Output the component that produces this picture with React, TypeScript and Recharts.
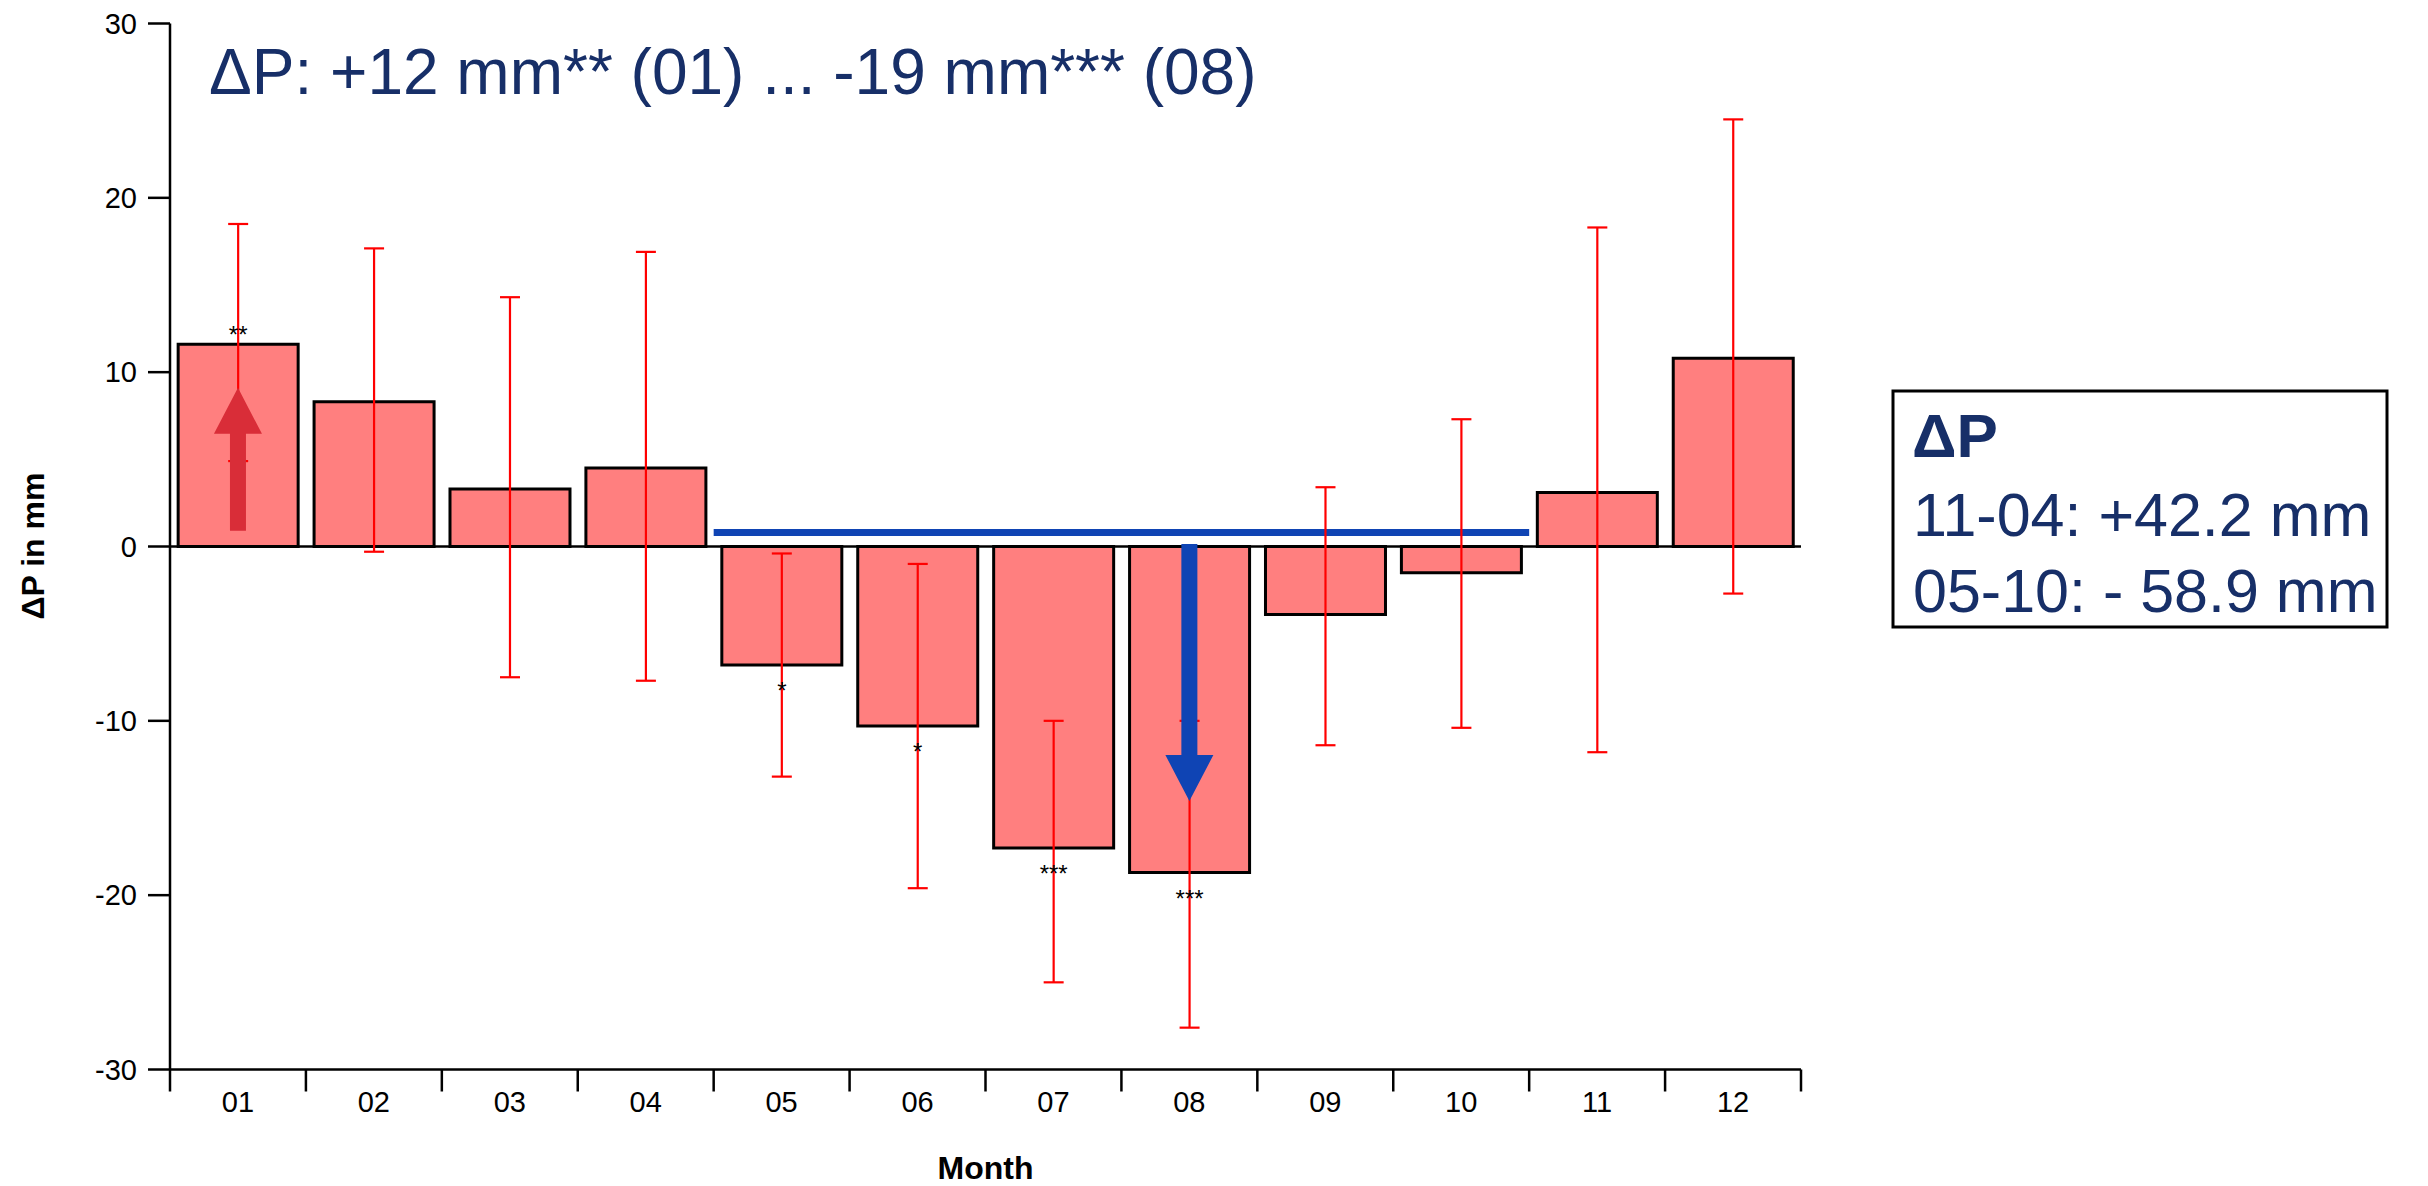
import {
  Bar,
  ComposedChart,
  ErrorBar,
  LabelList,
  ReferenceArea,
  ReferenceLine,
  XAxis,
  YAxis,
} from 'recharts';

const MONTHS = ['01', '02', '03', '04', '05', '06', '07', '08', '09', '10', '11', '12'];
const DELTA_P = [11.6, 8.3, 3.3, 4.5, -6.8, -10.3, -17.3, -18.7, -3.9, -1.5, 3.1, 10.8];
const CI_LOW = [4.9, -0.3, -7.5, -7.7, -13.2, -19.6, -25.0, -27.6, -11.4, -10.4, -11.8, -2.7];
const CI_HIGH = [18.5, 17.1, 14.3, 16.9, -0.4, -1.0, -10.0, -10.0, 3.4, 7.3, 18.3, 24.5];
const SIGNIFICANCE = ['**', '', '', '', '*', '*', '***', '***', '', '', '', ''];
const Y_TICKS = [-30, -20, -10, 0, 10, 20, 30];

// annotation marks (data units)
const UP_ARROW = { month: '01', from: 0.9, to: 9.1 };
const DOWN_ARROW = { month: '08', from: 0.15, to: -14.6 };
const SUMMER_LINE = { from: '05', to: '10', level: 0.8 };

const TITLE = 'ΔP: +12 mm** (01) ... -19 mm*** (08)';
const BOX_TITLE = 'ΔP';
const BOX_LINES = ['11-04: +42.2 mm', '05-10: - 58.9 mm'];

const W = 2428;
const H = 1186;
const PLOT_LEFT = 170;
const PLOT_RIGHT = 1801;
const PLOT_TOP = 23.5;

const FONT = '"Liberation Sans", Arial, sans-serif';
const NAVY = '#172f68';

const data = MONTHS.map((month, i) => ({
  month,
  dP: DELTA_P[i],
  err: [DELTA_P[i] - CI_LOW[i], CI_HIGH[i] - DELTA_P[i]],
  sig: SIGNIFICANCE[i],
}));

function MonthTick(props: any) {
  const { x, y, payload, index, visibleTicksCount } = props;
  const half =
    typeof payload?.offset === 'number' && payload.offset > 0
      ? payload.offset
      : (PLOT_RIGHT - PLOT_LEFT) / MONTHS.length / 2;
  const last = index === (visibleTicksCount ?? MONTHS.length) - 1;
  return (
    <g>
      <line x1={x - half} y1={y} x2={x - half} y2={y + 22} stroke="#000" strokeWidth={2.5} />
      {last && <line x1={x + half} y1={y} x2={x + half} y2={y + 22} stroke="#000" strokeWidth={2.5} />}
      <text x={x} y={y + 42} textAnchor="middle" fontSize={29} fontFamily={FONT} fill="#000">
        {payload.value}
      </text>
    </g>
  );
}

function renderSig(props: any) {
  const { value, index } = props;
  if (!value) return null;
  const box = props.viewBox ?? props;
  const { x, y, width, height } = box;
  const top = Math.min(y, y + height);
  const bottom = Math.max(y, y + height);
  const baseline = DELTA_P[index] >= 0 ? top - 1 : bottom + 34;
  return (
    <text
      key={`sig-${index}`}
      x={x + width / 2}
      y={baseline}
      textAnchor="middle"
      fontSize={24}
      fontFamily={FONT}
      fill="#000"
    >
      {value}
    </text>
  );
}

function arrowShape(color: string) {
  return (props: any) => {
    const { x1, y1, x2, y2 } = props;
    const dir = y2 > y1 ? 1 : -1;
    const shaft = 8;
    const head = 24;
    const baseY = y2 - dir * 46;
    const pts = [
      [x1 - shaft, y1],
      [x1 - shaft, baseY],
      [x1 - head, baseY],
      [x2, y2],
      [x1 + head, baseY],
      [x1 + shaft, baseY],
      [x1 + shaft, y1],
    ]
      .map((p) => p.join(','))
      .join(' ');
    return <polygon points={pts} fill={color} />;
  };
}

export default function App() {
  return (
    <div style={{ position: 'absolute', left: 0, top: 0, width: W, height: H, background: '#fff' }}>
      <ComposedChart
        width={W}
        height={H}
        data={data}
        barCategoryGap="6%"
        margin={{ top: PLOT_TOP, right: W - PLOT_RIGHT, bottom: 16.5, left: 20 }}
      >
        <XAxis
          dataKey="month"
          height={100}
          interval={0}
          tickLine={false}
          tickSize={0}
          tickMargin={0}
          axisLine={{ stroke: '#000', strokeWidth: 2.5 }}
          tick={<MonthTick />}
        />
        <YAxis
          width={150}
          domain={[-30, 30]}
          ticks={Y_TICKS}
          interval={0}
          tickSize={22}
          tickMargin={11}
          axisLine={{ stroke: '#000', strokeWidth: 2.5 }}
          tickLine={{ stroke: '#000', strokeWidth: 2.5 }}
          tick={{ fill: '#000', fontSize: 29, fontFamily: FONT }}
        />
        <ReferenceLine y={0} stroke="#000" strokeWidth={2.5} />
        <ReferenceArea
          x1={SUMMER_LINE.from}
          x2={SUMMER_LINE.to}
          y1={SUMMER_LINE.level - 0.2}
          y2={SUMMER_LINE.level + 0.2}
          fill="#0f44b4"
          fillOpacity={1}
          stroke="none"
        />
        <Bar dataKey="dP" fill="#ff7f7f" stroke="#000" strokeWidth={3} isAnimationActive={false}>
          <ErrorBar dataKey="err" width={10} stroke="#ff0000" strokeWidth={2.2} direction="y" />
          <LabelList dataKey="sig" content={renderSig} />
        </Bar>
        <ReferenceLine
          segment={[
            { x: UP_ARROW.month, y: UP_ARROW.from },
            { x: UP_ARROW.month, y: UP_ARROW.to },
          ]}
          shape={arrowShape('#d92d38')}
        />
        <ReferenceLine
          segment={[
            { x: DOWN_ARROW.month, y: DOWN_ARROW.from },
            { x: DOWN_ARROW.month, y: DOWN_ARROW.to },
          ]}
          shape={arrowShape('#0f44b4')}
        />
      </ComposedChart>
      <svg
        width={W}
        height={H}
        style={{ position: 'absolute', left: 0, top: 0, pointerEvents: 'none' }}
        fontFamily={FONT}
      >
        <text x={209} y={94} fontSize={64} fill={NAVY}>
          {TITLE}
        </text>
        <text
          x={33}
          y={546}
          fontSize={32}
          fontWeight="bold"
          fill="#000"
          textAnchor="middle"
          dominantBaseline="central"
          transform="rotate(-90 33 546)"
        >
          ΔP in mm
        </text>
        <text x={(PLOT_LEFT + PLOT_RIGHT) / 2} y={1179} fontSize={32} fontWeight="bold" fill="#000" textAnchor="middle">
          Month
        </text>
        <rect x={1893} y={391} width={494} height={236} fill="#fff" stroke="#000" strokeWidth={3} />
        <text x={1912} y={457} fontSize={62} fontWeight="bold" fill={NAVY}>
          {BOX_TITLE}
        </text>
        {BOX_LINES.map((line, i) => (
          <text key={line} x={1913} y={536 + i * 76} fontSize={61} fill={NAVY}>
            {line}
          </text>
        ))}
      </svg>
    </div>
  );
}
